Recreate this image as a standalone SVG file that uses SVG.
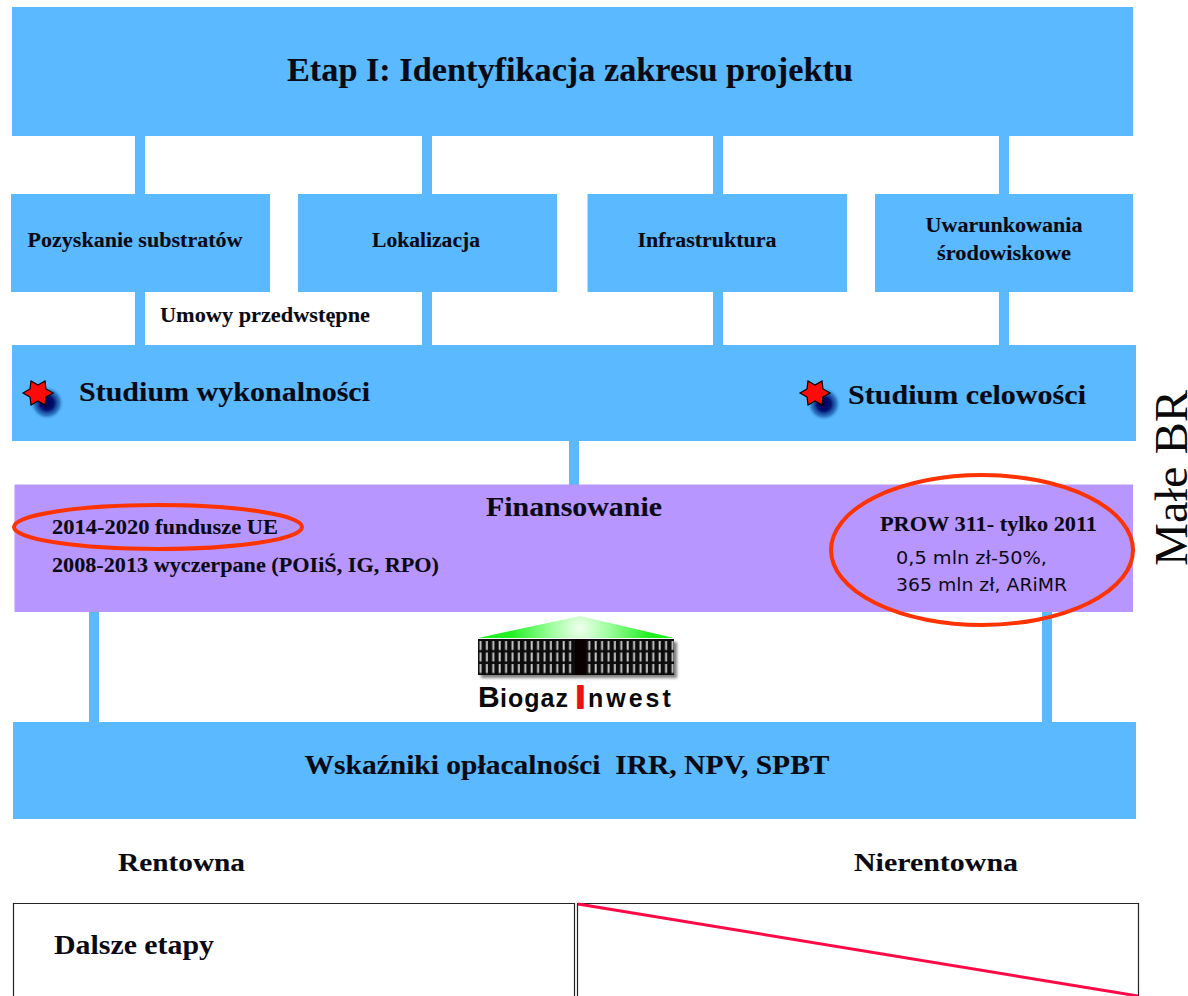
<svg xmlns="http://www.w3.org/2000/svg" width="1188" height="996" viewBox="0 0 1188 996">
<style>
.b{fill:#5ab9ff}
.p{fill:#b896ff}
.t{font-family:"Liberation Serif",serif;font-weight:bold;fill:#0a0a14;stroke:#0a0a14;stroke-width:.1}
.m{text-anchor:middle}
.s{fill:#ff0a0a;stroke:#000;stroke-width:1.2}
.o{fill:none;stroke:#ff3300;stroke-width:4}
</style>
<defs>
<radialGradient id="sh"><stop offset="0" stop-color="#000050"/><stop offset=".4" stop-color="#001070"/><stop offset=".75" stop-color="#1f62b0" stop-opacity=".7"/><stop offset="1" stop-color="#5ab9ff" stop-opacity="0"/></radialGradient>
<radialGradient id="roof" gradientUnits="userSpaceOnUse" cx="580" cy="628" r="70"><stop offset="0" stop-color="#f0fff0"/><stop offset=".4" stop-color="#a0ffa0"/><stop offset="1" stop-color="#20f020"/></radialGradient>
<pattern id="bars" patternUnits="userSpaceOnUse" x="478" y="640" width="6.4" height="11.5"><rect width="6.4" height="11.5" fill="#0c0c0c"/><rect x="1.5" y="1" width="2" height="9" fill="#c4c4c4"/></pattern>
<filter id="lb" x="-10%" y="-20%" width="120%" height="140%"><feGaussianBlur stdDeviation="1.8"/></filter>
<polygon id="star" points="-15,0 -8,-4 -7,-12 0,-8 7,-12 8,-4 15,0 8,4 7,12 0,8 -7,12 -8,4"/>
</defs>

<g id="connectors" class="b">
<rect x="135" y="135" width="10" height="60"/>
<rect x="422" y="135" width="10" height="60"/>
<rect x="713" y="135" width="10" height="60"/>
<rect x="999" y="135" width="10" height="60"/>
<rect x="135" y="291" width="10" height="55"/>
<rect x="422" y="291" width="10" height="55"/>
<rect x="713" y="291" width="10" height="55"/>
<rect x="999" y="291" width="10" height="55"/>
<rect x="569" y="440" width="10" height="46"/>
<rect x="89" y="611" width="10" height="112"/>
<rect x="1042" y="611" width="10" height="112"/>
</g>

<g id="etap"><rect class="b" x="12" y="7" width="1121" height="129"/>
<text class="t m" x="570" y="81" font-size="34" textLength="566" lengthAdjust="spacingAndGlyphs">Etap I: Identyfikacja zakresu projektu</text></g>

<g id="substraty"><rect class="b" x="11" y="194" width="259" height="98"/>
<text class="t m" x="135" y="247" font-size="20" textLength="215" lengthAdjust="spacingAndGlyphs">Pozyskanie substratów</text></g>
<g id="lokalizacja"><rect class="b" x="298" y="194" width="259" height="98"/>
<text class="t m" x="426" y="247" font-size="20" textLength="108" lengthAdjust="spacingAndGlyphs">Lokalizacja</text></g>
<g id="infrastruktura"><rect class="b" x="587.500" y="194" width="259.500" height="98"/>
<text class="t m" x="707" y="247" font-size="20" textLength="139" lengthAdjust="spacingAndGlyphs">Infrastruktura</text></g>
<g id="uwarunkowania"><rect class="b" x="875" y="194" width="258" height="98"/>
<text class="t m" x="1004" y="232" font-size="20" textLength="157" lengthAdjust="spacingAndGlyphs">Uwarunkowania</text>
<text class="t m" x="1004" y="260" font-size="20" textLength="134" lengthAdjust="spacingAndGlyphs">środowiskowe</text></g>

<g id="umowy"><text class="t" x="160" y="322" font-size="21" textLength="210" lengthAdjust="spacingAndGlyphs">Umowy przedwstępne</text></g>

<g id="studium"><rect class="b" x="12" y="345" width="1124" height="96"/>
<circle cx="47" cy="403" r="17" fill="url(#sh)"/>
<use href="#star" class="s" x="38" y="393"/>
<text class="t" x="79" y="401" font-size="28" textLength="291" lengthAdjust="spacingAndGlyphs">Studium wykonalności</text>
<circle cx="824" cy="404" r="17" fill="url(#sh)"/>
<use href="#star" class="s" x="815" y="393"/>
<text class="t" x="848" y="404" font-size="28" textLength="238" lengthAdjust="spacingAndGlyphs">Studium celowości</text></g>

<g id="finansowanie"><rect class="p" x="14.500" y="484.500" width="1118.500" height="127.500"/>
<text class="t m" x="574" y="516" font-size="28" textLength="176" lengthAdjust="spacingAndGlyphs">Finansowanie</text>
<text class="t" x="52" y="534" font-size="21" textLength="226" lengthAdjust="spacingAndGlyphs">2014-2020 fundusze UE</text>
<text class="t" x="52" y="572" font-size="21" textLength="387" lengthAdjust="spacingAndGlyphs">2008-2013 wyczerpane (POIiŚ, IG, RPO)</text>
<text class="t" x="880" y="531" font-size="21" textLength="217" lengthAdjust="spacingAndGlyphs">PROW 311- tylko 2011</text>
<text x="896" y="564" font-family="'DejaVu Sans',sans-serif" font-size="17.500" fill="#0a0a14" textLength="151" lengthAdjust="spacingAndGlyphs">0,5 mln zł-50%,</text>
<text x="896" y="591" font-family="'DejaVu Sans',sans-serif" font-size="17.500" fill="#0a0a14" textLength="171" lengthAdjust="spacingAndGlyphs">365 mln zł, ARiMR</text>
<ellipse class="o" cx="158" cy="527" rx="144" ry="22"/>
<ellipse class="o" cx="982" cy="550" rx="151" ry="75"/></g>

<g id="logo">
<rect x="481" y="642" width="196" height="36" fill="#000" opacity=".5" filter="url(#lb)"/>
<polygon points="478,638 580,616 674,638" fill="url(#roof)"/>
<rect x="478" y="639" width="196" height="36" fill="#0c0c0c"/>
<rect x="478" y="640" width="196" height="34" fill="url(#bars)"/>
<rect x="575" y="639" width="11" height="36" fill="#0a0000"/>
<text y="707" font-family="'Liberation Sans',sans-serif" font-weight="bold" font-size="25" fill="#0a0a0a"><tspan x="478" font-size="30">B</tspan><tspan x="500" letter-spacing="1">iogaz</tspan><tspan x="576" y="708" font-size="32" fill="#ee1111" stroke="#ee1111" stroke-width="2" stroke-linejoin="round">I</tspan><tspan x="588" y="707" letter-spacing="3">nwest</tspan></text>
</g>

<g id="wskazniki"><rect class="b" x="13" y="722" width="1123" height="97"/>
<text class="t m" x="567" y="774" font-size="28" textLength="525" lengthAdjust="spacingAndGlyphs" xml:space="preserve">Wskaźniki opłacalności  IRR, NPV, SPBT</text></g>

<g id="rentowna"><text class="t" x="118" y="871" font-size="26" textLength="127" lengthAdjust="spacingAndGlyphs">Rentowna</text></g>
<g id="nierentowna"><text class="t" x="854" y="871" font-size="26" textLength="164" lengthAdjust="spacingAndGlyphs">Nierentowna</text></g>

<g id="tabela" fill="none" stroke="#222" stroke-width="1.2">
<path d="M13.500 996V903.500H574.500V996"/>
<path d="M577.500 996V903.500H1138.500V996"/>
<line x1="578" y1="904" x2="1138" y2="996" stroke="#ff0a46" stroke-width="3"/>
<text x="54" y="954" font-family="'Liberation Serif',serif" font-weight="bold" font-size="28" fill="#0a0a14" stroke="none" textLength="160" lengthAdjust="spacingAndGlyphs">Dalsze etapy</text>
</g>

<g id="male-br"><text transform="translate(1187,566) rotate(-90)" font-family="'Liberation Serif',serif" font-size="46" fill="#0a0a0a" textLength="176" lengthAdjust="spacingAndGlyphs">Małe BR</text></g>
</svg>
